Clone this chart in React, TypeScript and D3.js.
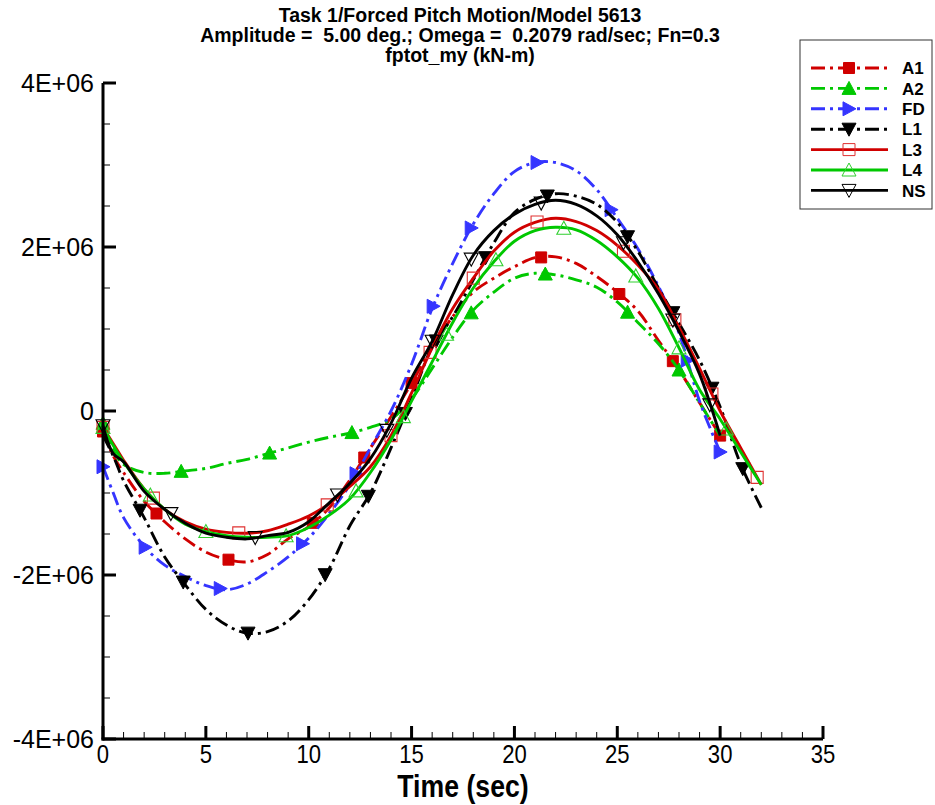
import React from 'react';
import * as d3 from 'd3';

// ---------- data (values in units of 1E+06 kN-m) ----------
const TIME = [0, 0.5, 1, 2, 3, 4, 5, 6, 7, 8, 9, 10, 11, 12, 13, 14, 15, 16, 17, 18, 19, 20, 21, 22, 23, 24, 25, 26, 27, 28, 29, 30, 31, 32];

const A1 = [-0.25, -0.55, -0.75, -1.1, -1.35, -1.56, -1.72, -1.81, -1.84, -1.75, -1.56, -1.41, -1.18, -0.84, -0.45, -0.07, 0.34, 0.78, 1.15, 1.45, 1.62, 1.76, 1.87, 1.88, 1.8, 1.64, 1.45, 1.22, 0.86, 0.5, 0.1, -0.3, null, null];
const A2 = [-0.15, -0.48, -0.65, -0.75, -0.76, -0.73, -0.7, -0.64, -0.59, -0.52, -0.45, -0.38, -0.32, -0.27, -0.2, -0.1, 0.15, 0.52, 0.9, 1.23, 1.45, 1.62, 1.68, 1.66, 1.6, 1.51, 1.33, 1.08, 0.82, 0.5, 0.1, -0.3, null, null];
const FD = [-0.68, -1.0, -1.3, -1.65, -1.88, -2.02, -2.13, -2.18, -2.11, -1.96, -1.78, -1.55, -1.25, -0.9, -0.45, 0.0, 0.57, 1.25, 1.8, 2.28, 2.65, 2.92, 3.03, 3.03, 2.93, 2.7, 2.35, 1.98, 1.52, 0.95, 0.12, -0.5, null, null];
const L1 = [-0.3, -0.55, -0.85, -1.3, -1.78, -2.12, -2.42, -2.61, -2.71, -2.69, -2.56, -2.3, -1.92, -1.4, -1.0, -0.45, 0.15, 0.78, 1.15, 1.6, 2.05, 2.42, 2.58, 2.65, 2.62, 2.52, 2.3, 1.95, 1.5, 1.07, 0.62, 0.05, -0.65, -1.18];
const L3 = [-0.2, -0.4, -0.6, -0.95, -1.2, -1.35, -1.44, -1.48, -1.49, -1.46, -1.38, -1.28, -1.13, -0.92, -0.68, -0.3, 0.22, 0.77, 1.25, 1.62, 1.95, 2.18, 2.3, 2.35, 2.31, 2.2, 2.02, 1.78, 1.48, 1.02, 0.52, 0.0, -0.45, -0.9];
const L4 = [-0.2, -0.42, -0.62, -0.95, -1.2, -1.38, -1.47, -1.52, -1.54, -1.54, -1.52, -1.42, -1.27, -1.07, -0.75, -0.35, 0.12, 0.6, 1.08, 1.5, 1.82, 2.07, 2.2, 2.24, 2.21, 2.08, 1.88, 1.62, 1.25, 0.77, 0.26, -0.1, -0.5, -0.9];
const NS = [-0.18, -0.52, -0.62, -0.98, -1.2, -1.37, -1.49, -1.54, -1.56, -1.52, -1.48, -1.35, -1.12, -0.88, -0.58, -0.15, 0.4, 0.85, 1.42, 1.9, 2.2, 2.4, 2.52, 2.57, 2.52, 2.38, 2.15, 1.82, 1.43, 0.97, 0.45, -0.3, null, null];

// symbol positions (time, sec)
const MK_A1 = [0, 2.6, 6.1, 10.2, 12.7, 15.0, 21.3, 25.1, 27.7, 30.0];
const MK_A2 = [0, 3.8, 8.1, 12.1, 17.9, 21.5, 25.5, 28.0];
const MK_FD = [0, 2.05, 5.7, 9.7, 12.3, 16.05, 17.9, 21.1, 24.7, 28.4, 30.0];
const MK_L1 = [1.8, 3.9, 7.05, 10.8, 12.9, 14.7, 16.2, 18.6, 21.6, 25.5, 27.7, 29.6, 31.1];
const MK_L3 = [0, 2.45, 6.6, 10.9, 14.0, 15.9, 18.0, 21.1, 25.3, 27.8, 29.6, 31.8];
const MK_L4 = [0, 2.3, 5.0, 8.9, 12.3, 14.6, 16.7, 19.1, 22.4, 25.9, 28.0, 30.3];
const MK_NS = [0, 3.3, 7.4, 11.4, 13.8, 16.0, 17.9, 21.3, 25.3, 27.7, 29.5];

const SERIES_NAMES = ['A1', 'A2', 'FD', 'L1', 'L3', 'L4', 'NS'];
const X_TICKS = [0, 5, 10, 15, 20, 25, 30, 35];
const X_TICK_LABELS = ['0', '5', '10', '15', '20', '25', '30', '35'];
const Y_TICKS = [-4, -2, 0, 2, 4];
const Y_TICK_LABELS = ['-4E+06', '-2E+06', '0', '2E+06', '4E+06'];
const TITLE_LINES = [
  'Task 1/Forced Pitch Motion/Model 5613',
  'Amplitude =  5.00 deg.; Omega =  0.2079 rad/sec; Fn=0.3',
  'fptot_my (kN-m)',
];
const X_TITLE = 'Time (sec)';

// ---------- styles ----------
const RED = '#d00000';
const GREEN = '#00c800';
const BLUE = '#3535ff';
const BLACK = '#000000';
const DASH = '14,5,3,5';

type Shape = 'square' | 'triUp' | 'triRight' | 'triDown';
const STYLE: Record<string, { color: string; dash: string | null; shape: Shape; filled: boolean; mcolor: string }> = {
  A1: { color: RED, dash: DASH, shape: 'square', filled: true, mcolor: RED },
  A2: { color: GREEN, dash: DASH, shape: 'triUp', filled: true, mcolor: GREEN },
  FD: { color: BLUE, dash: DASH, shape: 'triRight', filled: true, mcolor: BLUE },
  L1: { color: BLACK, dash: DASH, shape: 'triDown', filled: true, mcolor: BLACK },
  L3: { color: RED, dash: null, shape: 'square', filled: false, mcolor: '#e03030' },
  L4: { color: GREEN, dash: null, shape: 'triUp', filled: false, mcolor: '#30d030' },
  NS: { color: BLACK, dash: null, shape: 'triDown', filled: false, mcolor: BLACK },
};
const VALUES: Record<string, (number | null)[]> = { A1, A2, FD, L1, L3, L4, NS };
const MARKS: Record<string, number[]> = { A1: MK_A1, A2: MK_A2, FD: MK_FD, L1: MK_L1, L3: MK_L3, L4: MK_L4, NS: MK_NS };

function markerPath(shape: Shape, filled: boolean): string {
  if (shape === 'square') {
    const h = filled ? 5.5 : 6;
    return `M${-h},${-h}H${h}V${h}H${-h}Z`;
  }
  const a = 7, b = 6;
  if (shape === 'triUp') return `M0,${-a}L${a},${b}L${-a},${b}Z`;
  if (shape === 'triDown') return `M0,${a}L${a},${-b}L${-a},${-b}Z`;
  return `M${a},0L${-b},${-a}L${-b},${a}Z`;
}

function interp(vals: (number | null)[], t: number): number {
  for (let i = 0; i < TIME.length - 1; i++) {
    const v0 = vals[i], v1 = vals[i + 1];
    if (v0 == null) continue;
    if (t >= TIME[i] && t <= TIME[i + 1]) {
      if (v1 == null) return v0;
      const f = (t - TIME[i]) / (TIME[i + 1] - TIME[i]);
      return v0 + f * (v1 - v0);
    }
  }
  let last = 0;
  vals.forEach((v) => { if (v != null) last = v; });
  return last;
}

export default function App() {
  const W = 935, H = 805;
  const x = d3.scaleLinear().domain([0, 35]).range([103, 823]);
  const y = d3.scaleLinear().domain([-4, 4]).range([739, 83]);

  const line = d3.line<[number, number | null]>()
    .defined((d) => d[1] != null)
    .x((d) => x(d[0]))
    .y((d) => y(d[1] as number))
    .curve(d3.curveCatmullRom.alpha(0.5));

  const xMinor = d3.range(0, 36, 1);
  const yMinor = d3.range(-4, 4.01, 0.5);

  const legendX = 800, legendY = 40, legendW = 132, legendH = 169;
  const legendRow0 = 68, legendStep = 20.4;

  return (
    <svg width={W} height={H} style={{ position: 'absolute', left: 0, top: 0, background: '#fff' }}
      fontFamily="'Liberation Sans', Arial, sans-serif">
      <rect x={0} y={0} width={W} height={H} fill="#fff" />
      {/* title */}
      {TITLE_LINES.map((t, i) => (
        <text key={i} x={460} y={22 + i * 20} textAnchor="middle" fontSize={19.5} fontWeight="bold"
          style={{ whiteSpace: 'pre' }}>{t}</text>
      ))}

      {/* curves */}
      {SERIES_NAMES.map((name) => {
        const st = STYLE[name];
        const pts = TIME.map((t, i) => [t, VALUES[name][i]] as [number, number | null]);
        return (
          <g key={name}>
            <path d={line(pts) || ''} fill="none" stroke={st.color} strokeWidth={2.9}
              strokeDasharray={st.dash || undefined} strokeLinejoin="round" />
            {MARKS[name].map((t, j) => (
              <path key={j} transform={`translate(${x(t)},${y(interp(VALUES[name], t))})`}
                d={markerPath(st.shape, st.filled)}
                fill={st.filled ? st.mcolor : 'none'} stroke={st.mcolor} strokeWidth={st.filled ? 1 : 1.1} />
            ))}
          </g>
        );
      })}

      {/* axes */}
      <line x1={103} x2={103} y1={83} y2={740.5} stroke="#000" strokeWidth={3} />
      <line x1={101.5} x2={823} y1={739} y2={739} stroke="#000" strokeWidth={3} />
      {yMinor.map((v, i) => (
        <line key={'ym' + i} x1={103} x2={110} y1={y(v)} y2={y(v)} stroke="#000" strokeWidth={1} />
      ))}
      {Y_TICKS.map((v, i) => (
        <line key={'yM' + i} x1={103} x2={116} y1={y(v)} y2={y(v)} stroke="#000" strokeWidth={3} />
      ))}
      {xMinor.map((v, i) => (
        <line key={'xm' + i} x1={x(v)} x2={x(v)} y1={739} y2={732} stroke="#000" strokeWidth={1} />
      ))}
      {X_TICKS.map((v, i) => (
        <line key={'xM' + i} x1={x(v)} x2={x(v)} y1={739} y2={726} stroke="#000" strokeWidth={3} />
      ))}
      {Y_TICKS.map((v, i) => (
        <text key={'yl' + i} x={94} y={y(v)} dy="0.36em" textAnchor="end" fontSize={25}>{Y_TICK_LABELS[i]}</text>
      ))}
      {X_TICKS.map((v, i) => (
        <text key={'xl' + i} transform={`translate(${x(v)},763) scale(0.85,1)`} x={0} y={0}
          textAnchor="middle" fontSize={26}>{X_TICK_LABELS[i]}</text>
      ))}
      <text transform="translate(463,797) scale(0.86,1)" x={0} y={0} textAnchor="middle" fontSize={31}
        fontWeight="bold">{X_TITLE}</text>

      {/* legend */}
      <rect x={legendX} y={legendY} width={legendW} height={legendH} fill="#fff" stroke="#333" strokeWidth={1} />
      {SERIES_NAMES.map((name, i) => {
        const st = STYLE[name];
        const yy = legendRow0 + i * legendStep;
        return (
          <g key={'lg' + name}>
            <line x1={811} x2={888} y1={yy} y2={yy} stroke={st.color} strokeWidth={2.9}
              strokeDasharray={st.dash || undefined} />
            <path transform={`translate(849,${yy})`} d={markerPath(st.shape, st.filled)}
              fill={st.filled ? st.mcolor : 'none'} stroke={st.mcolor} strokeWidth={1} />
            <text x={902} y={yy} dy="0.36em" fontSize={17} fontWeight="bold">{name}</text>
          </g>
        );
      })}
    </svg>
  );
}
